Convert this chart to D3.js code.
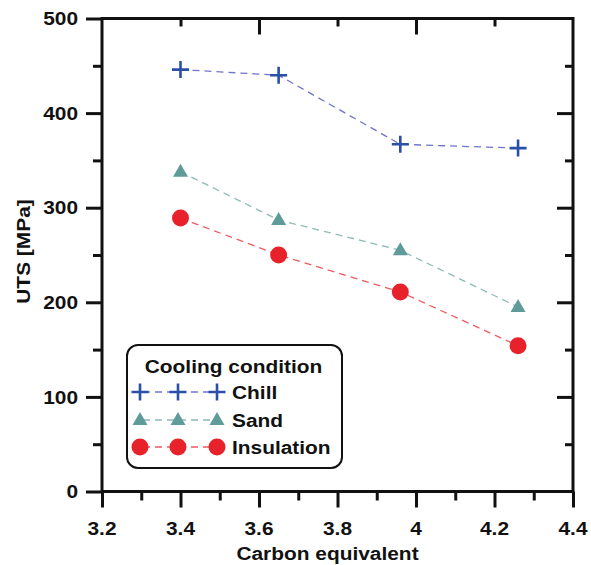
<!DOCTYPE html>
<html>
<head>
<meta charset="utf-8">
<script src="https://cdn.jsdelivr.net/npm/d3@7"></script>
<style>
  html, body { margin: 0; padding: 0; background: #fff; }
  text { font-family: "Liberation Sans", Arial, sans-serif; font-weight: bold; fill: #111; }
</style>
</head>
<body>
<svg id="chart" width="591" height="565"></svg>
<script>
// ---- data ----
const carbonEquivalent = [3.40, 3.65, 3.96, 4.26];
const chill = [446, 440, 367, 363];
const sand = [338, 287, 255, 195];
const insulation = [289, 250, 211, 154];
const xTickLabels = ["3.2", "3.4", "3.6", "3.8", "4", "4.2", "4.4"];
const yTickLabels = ["0", "100", "200", "300", "400", "500"];
const legendTitle = "Cooling condition";
const seriesNames = ["Chill", "Sand", "Insulation"];

// ---- layout ----
const svg = d3.select("#chart");
const L = 102, R = 573, T = 18.5, B = 491.5;
const x = d3.scaleLinear().domain([3.2, 4.4]).range([L, R]);
const y = d3.scaleLinear().domain([0, 500]).range([B, T]);
const SX = 1.13; // horizontal text stretch
const FS = 18.5;

function stretchedText(g, str, px, py, anchor, size) {
  return g.append("text")
    .attr("transform", `translate(${px},${py}) scale(${SX},1)`)
    .attr("text-anchor", anchor)
    .style("font-size", size + "px")
    .text(str);
}

// ---- series lines & markers ----
const series = [
  { name: seriesNames[0], values: chill, line: "#6f74cf", mark: "#2a4fa6", shape: "plus" },
  { name: seriesNames[1], values: sand, line: "#8fb9b6", mark: "#5f9c99", shape: "tri" },
  { name: seriesNames[2], values: insulation, line: "#ef5a62", mark: "#e8222b", shape: "circle" }
];

const lineGen = d3.line().x(d => x(d[0])).y(d => y(d[1]));

function drawMarker(g, shape, color, cx, cy) {
  if (shape === "plus") {
    g.append("path")
      .attr("d", `M${cx - 8.5},${cy}H${cx + 8.5}M${cx},${cy - 8.5}V${cy + 8.5}`)
      .attr("stroke", color).attr("stroke-width", 2.6).attr("fill", "none");
  } else if (shape === "tri") {
    g.append("path")
      .attr("d", `M${cx},${cy - 8}L${cx + 7.5},${cy + 5}L${cx - 7.5},${cy + 5}Z`)
      .attr("fill", color);
  } else {
    g.append("circle").attr("cx", cx).attr("cy", cy).attr("r", 8.5).attr("fill", color);
  }
}

const plotG = svg.append("g");
series.forEach(s => {
  const pts = carbonEquivalent.map((c, i) => [c, s.values[i]]);
  plotG.append("path")
    .attr("d", lineGen(pts))
    .attr("fill", "none")
    .attr("stroke", s.line)
    .attr("stroke-width", 1.3)
    .attr("stroke-dasharray", "7,5");
  pts.forEach(p => drawMarker(plotG, s.shape, s.mark, x(p[0]), y(p[1])));
});

// ---- axes ----
const AX_W = 3;
function styleAxis(g) {
  g.select(".domain").remove();
  g.selectAll("line").attr("stroke", "#111").attr("stroke-width", AX_W);
  g.selectAll("text").remove();
}
const xMajor = d3.range(0, 7).map(i => 3.2 + i * 0.2);
const xMinor = d3.range(0, 6).map(i => 3.3 + i * 0.2);
const yMajor = d3.range(0, 6).map(i => i * 100);
const yMinor = d3.range(0, 5).map(i => 50 + i * 100);

// bottom
svg.append("g").attr("transform", `translate(0,${B})`)
  .call(d3.axisBottom(x).tickValues(xMajor).tickSize(16).tickSizeOuter(0)).call(styleAxis);
svg.append("g").attr("transform", `translate(0,${B})`)
  .call(d3.axisBottom(x).tickValues(xMinor).tickSize(9).tickSizeOuter(0)).call(styleAxis);
// left
svg.append("g").attr("transform", `translate(${L},0)`)
  .call(d3.axisLeft(y).tickValues(yMajor).tickSize(16).tickSizeOuter(0)).call(styleAxis);
svg.append("g").attr("transform", `translate(${L},0)`)
  .call(d3.axisLeft(y).tickValues(yMinor).tickSize(9).tickSizeOuter(0)).call(styleAxis);
// top (inward)
svg.append("g").attr("transform", `translate(0,${T})`)
  .call(d3.axisTop(x).tickValues([3.6, 4.0]).tickSize(-16).tickSizeOuter(0)).call(styleAxis);
svg.append("g").attr("transform", `translate(0,${T})`)
  .call(d3.axisTop(x).tickValues([3.4, 3.8, 4.2]).tickSize(-8).tickSizeOuter(0)).call(styleAxis);
// right (inward)
svg.append("g").attr("transform", `translate(${R},0)`)
  .call(d3.axisRight(y).tickValues(yMajor.slice(1, 5)).tickSize(-16).tickSizeOuter(0)).call(styleAxis);
svg.append("g").attr("transform", `translate(${R},0)`)
  .call(d3.axisRight(y).tickValues(yMinor).tickSize(-8).tickSizeOuter(0)).call(styleAxis);

// frame
svg.append("rect")
  .attr("x", L).attr("y", T).attr("width", R - L).attr("height", B - T)
  .attr("fill", "none").attr("stroke", "#111").attr("stroke-width", AX_W);

// tick labels
const labG = svg.append("g");
xMajor.forEach((v, i) => stretchedText(labG, xTickLabels[i], x(v), 535, "middle", FS));
yMajor.forEach((v, i) => stretchedText(labG, yTickLabels[i], 78, y(v) + 6.6, "end", FS));

// axis titles
stretchedText(labG, "Carbon equivalent", 327.5, 560, "middle", FS);
labG.append("text")
  .attr("transform", `translate(29.5,251.5) rotate(-90) scale(${SX},1)`)
  .attr("text-anchor", "middle")
  .style("font-size", FS + "px")
  .text("UTS [MPa]");

// ---- legend ----
const leg = svg.append("g");
leg.append("rect")
  .attr("x", 127).attr("y", 345).attr("width", 215).attr("height", 123)
  .attr("rx", 11).attr("ry", 11)
  .attr("fill", "#fff").attr("stroke", "#111").attr("stroke-width", 2);
stretchedText(leg, legendTitle, 233.5, 373, "middle", FS);
const rowY = [392, 420, 447];
const symX = [140, 178, 217];
series.forEach((s, i) => {
  leg.append("line")
    .attr("x1", symX[0]).attr("x2", symX[2]).attr("y1", rowY[i]).attr("y2", rowY[i])
    .attr("stroke", s.line).attr("stroke-width", 1.3).attr("stroke-dasharray", "7,5")
    .attr("stroke-dashoffset", -3);
  symX.forEach(sx => drawMarker(leg, s.shape, s.mark, sx, rowY[i]));
  stretchedText(leg, s.name, 232, rowY[i] + 6.5, "start", FS);
});
</script>
</body>
</html>
